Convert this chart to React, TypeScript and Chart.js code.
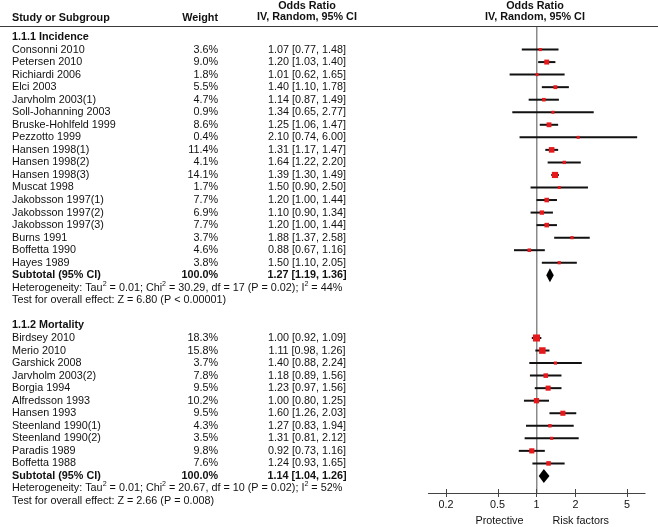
import React, { useEffect, useRef } from 'react';
import { Chart, registerables } from 'chart.js';

Chart.register(...registerables);

// ---------- data ----------
const incidenceNames = [
  'Consonni 2010', 'Petersen 2010', 'Richiardi 2006', 'Elci 2003', 'Jarvholm 2003(1)',
  'Soll-Johanning 2003', 'Bruske-Hohlfeld 1999', 'Pezzotto 1999', 'Hansen 1998(1)',
  'Hansen 1998(2)', 'Hansen 1998(3)', 'Muscat 1998', 'Jakobsson 1997(1)', 'Jakobsson 1997(2)',
  'Jakobsson 1997(3)', 'Burns 1991', 'Boffetta 1990', 'Hayes 1989',
];
const incidenceWeights = [3.6, 9.0, 1.8, 5.5, 4.7, 0.9, 8.6, 0.4, 11.4, 4.1, 14.1, 1.7, 7.7, 6.9, 7.7, 3.7, 4.6, 3.8];
const incidenceOR = [1.07, 1.20, 1.01, 1.40, 1.14, 1.34, 1.25, 2.10, 1.31, 1.64, 1.39, 1.50, 1.20, 1.10, 1.20, 1.88, 0.88, 1.50];
const incidenceLow = [0.77, 1.03, 0.62, 1.10, 0.87, 0.65, 1.06, 0.74, 1.17, 1.22, 1.30, 0.90, 1.00, 0.90, 1.00, 1.37, 0.67, 1.10];
const incidenceHigh = [1.48, 1.40, 1.65, 1.78, 1.49, 2.77, 1.47, 6.00, 1.47, 2.20, 1.49, 2.50, 1.44, 1.34, 1.44, 2.58, 1.16, 2.05];
const incidenceSubtotal = [1.27, 1.19, 1.36];
const incidenceHet = ['0.01', '30.29', '17', '0.02', '44'];
const incidenceTest = 'Z = 6.80 (P < 0.00001)';

const mortalityNames = [
  'Birdsey 2010', 'Merio 2010', 'Garshick 2008', 'Jarvholm 2003(2)', 'Borgia 1994',
  'Alfredsson 1993', 'Hansen 1993', 'Steenland 1990(1)', 'Steenland 1990(2)', 'Paradis 1989', 'Boffetta 1988',
];
const mortalityWeights = [18.3, 15.8, 3.7, 7.8, 9.5, 10.2, 9.5, 4.3, 3.5, 9.8, 7.6];
const mortalityOR = [1.00, 1.11, 1.40, 1.18, 1.23, 1.00, 1.60, 1.27, 1.31, 0.92, 1.24];
const mortalityLow = [0.92, 0.98, 0.88, 0.89, 0.97, 0.80, 1.26, 0.83, 0.81, 0.73, 0.93];
const mortalityHigh = [1.09, 1.26, 2.24, 1.56, 1.56, 1.25, 2.03, 1.94, 2.12, 1.16, 1.65];
const mortalitySubtotal = [1.14, 1.04, 1.26];
const mortalityHet = ['0.01', '20.67', '10', '0.02', '52'];
const mortalityTest = 'Z = 2.66 (P = 0.008)';

const subgroupTitles = ['1.1.1 Incidence', '1.1.2 Mortality'];
const xTicks = [0.2, 0.5, 1, 2, 5];
const favourLabels = ['Protective', 'Risk factors'];

// ---------- build rows ----------
type Study = { name: string; w: number; or: number; lo: number; hi: number; row: number };
const groups = [
  { title: subgroupTitles[0], names: incidenceNames, w: incidenceWeights, or: incidenceOR, lo: incidenceLow, hi: incidenceHigh, sub: incidenceSubtotal, het: incidenceHet, test: incidenceTest },
  { title: subgroupTitles[1], names: mortalityNames, w: mortalityWeights, or: mortalityOR, lo: mortalityLow, hi: mortalityHigh, sub: mortalitySubtotal, het: mortalityHet, test: mortalityTest },
];

const studies: Study[] = [];
const layoutGroups: any[] = [];
let r = 0;
for (const g of groups) {
  const headerRow = r++;
  const rows: Study[] = [];
  g.names.forEach((n, i) => {
    const s = { name: n, w: g.w[i], or: g.or[i], lo: g.lo[i], hi: g.hi[i], row: r++ };
    rows.push(s);
    studies.push(s);
  });
  const subRow = r++;
  const hetRow = r++;
  const testRow = r++;
  r++; // blank
  layoutGroups.push({ ...g, headerRow, subRow, hetRow, testRow });
}

const FONT = '"Liberation Sans", Arial, Helvetica, sans-serif';
const FS = 10.8;
const RED = '#e5191c';

const fmt = (v: number) => v.toFixed(2);

function drawRich(ctx: CanvasRenderingContext2D, segs: [string, boolean][], x: number, y: number) {
  let cx = x;
  ctx.textAlign = 'left';
  for (const [t, sup] of segs) {
    ctx.font = `${sup ? FS * 0.66 : FS}px ${FONT}`;
    ctx.fillText(t, cx, sup ? y - 4 : y);
    cx += ctx.measureText(t).width;
  }
}

const forestPlugin = {
  id: 'forest',
  afterDatasetsDraw(chart: any) {
    const ctx: CanvasRenderingContext2D = chart.ctx;
    const xs = chart.scales.x;
    const ys = chart.scales.y;
    ctx.save();
    // diamonds
    ctx.fillStyle = '#000';
    for (const g of layoutGroups) {
      const [est, lo, hi] = g.sub;
      const yc = ys.getPixelForValue(g.subRow);
      const h = Math.abs(ys.getPixelForValue(g.subRow + 0.56) - yc);
      ctx.beginPath();
      ctx.moveTo(xs.getPixelForValue(lo), yc);
      ctx.lineTo(xs.getPixelForValue(est), yc - h);
      ctx.lineTo(xs.getPixelForValue(hi), yc);
      ctx.lineTo(xs.getPixelForValue(est), yc + h);
      ctx.closePath();
      ctx.fill();
    }
    ctx.restore();
  },
  afterDraw(chart: any) {
    const ctx: CanvasRenderingContext2D = chart.ctx;
    const xs = chart.scales.x;
    const ys = chart.scales.y;
    const area = chart.chartArea;
    ctx.save();
    // header rule
    ctx.strokeStyle = '#3a3a3a';
    ctx.lineWidth = 1;
    ctx.beginPath();
    ctx.moveTo(0, area.top + 0.5);
    ctx.lineTo(chart.width, area.top + 0.5);
    ctx.stroke();
    // tick marks crossing axis
    ctx.strokeStyle = '#444';
    for (const v of xTicks) {
      const px = Math.round(xs.getPixelForValue(v)) + 0.5;
      ctx.beginPath();
      ctx.moveTo(px, area.bottom - 4);
      ctx.lineTo(px, area.bottom + 4);
      ctx.stroke();
    }

    ctx.fillStyle = '#111';
    ctx.textBaseline = 'middle';
    const colName = 12;
    const colWeight = 218;
    const colOR = 307;
    const plotMid = (area.left + area.right) / 2 - 1.5;

    // headers
    ctx.font = `bold ${FS}px ${FONT}`;
    ctx.textAlign = 'left';
    ctx.fillText('Study or Subgroup', colName, 18.5);
    ctx.textAlign = 'right';
    ctx.fillText('Weight', colWeight, 18.5);
    ctx.textAlign = 'center';
    ctx.fillText('Odds Ratio', colOR, 6.5);
    ctx.fillText('IV, Random, 95% CI', colOR, 17.5);
    ctx.fillText('Odds Ratio', plotMid, 6.5);
    ctx.fillText('IV, Random, 95% CI', plotMid, 17.5);

    for (const g of layoutGroups) {
      ctx.font = `bold ${FS}px ${FONT}`;
      ctx.textAlign = 'left';
      ctx.fillText(g.title, colName, ys.getPixelForValue(g.headerRow));
    }

    ctx.font = `${FS}px ${FONT}`;
    for (const s of studies) {
      const y = ys.getPixelForValue(s.row);
      ctx.textAlign = 'left';
      ctx.fillText(s.name, colName, y);
      ctx.textAlign = 'right';
      ctx.fillText(s.w.toFixed(1) + '%', colWeight, y);
      ctx.textAlign = 'center';
      ctx.fillText(`${fmt(s.or)} [${fmt(s.lo)}, ${fmt(s.hi)}]`, colOR, y);
    }

    for (const g of layoutGroups) {
      const y = ys.getPixelForValue(g.subRow);
      const total = g.w.reduce((a: number, b: number) => a + b, 0);
      ctx.font = `bold ${FS}px ${FONT}`;
      ctx.textAlign = 'left';
      ctx.fillText('Subtotal (95% CI)', colName, y);
      ctx.textAlign = 'right';
      ctx.fillText(Math.round(total).toFixed(1) + '%', colWeight, y);
      ctx.textAlign = 'center';
      ctx.fillText(`${fmt(g.sub[0])} [${fmt(g.sub[1])}, ${fmt(g.sub[2])}]`, colOR, y);

      const [tau, chi, df, p, i2] = g.het;
      drawRich(ctx, [
        ['Heterogeneity: Tau', false], ['2', true], [` = ${tau}; Chi`, false], ['2', true],
        [` = ${chi}, df = ${df} (P = ${p}); I`, false], ['2', true], [` = ${i2}%`, false],
      ], colName, ys.getPixelForValue(g.hetRow));
      ctx.font = `${FS}px ${FONT}`;
      ctx.textAlign = 'left';
      ctx.fillText('Test for overall effect: ' + g.test, colName, ys.getPixelForValue(g.testRow));
    }

    // favour labels
    const x1 = xs.getPixelForValue(1);
    ctx.font = `${FS}px ${FONT}`;
    ctx.textAlign = 'right';
    ctx.fillText(favourLabels[0], x1 - 13, 521);
    ctx.textAlign = 'left';
    ctx.fillText(favourLabels[1], x1 + 16, 521);
    ctx.restore();
  },
};

export default function App() {
  const ref = useRef<HTMLCanvasElement>(null);
  useEffect(() => {
    const datasets: any[] = [];
    datasets.push({
      type: 'scatter',
      data: studies.map((s) => ({ x: s.or, y: s.row })),
      pointStyle: 'rect',
      pointRadius: studies.map((s) => Math.max(3, 1.65 * Math.sqrt(s.w)) / Math.SQRT2),
      backgroundColor: RED,
      borderWidth: 0,
      pointBorderWidth: 0,
    });
    for (const s of studies) {
      datasets.push({
        type: 'scatter',
        data: [{ x: s.lo, y: s.row }, { x: s.hi, y: s.row }],
        showLine: true,
        borderColor: '#111',
        borderWidth: 2,
        pointRadius: 0,
        borderCapStyle: 'butt',
      });
    }
    const chart = new Chart(ref.current as HTMLCanvasElement, {
      type: 'scatter',
      data: { datasets },
      plugins: [forestPlugin as any],
      options: {
        responsive: false,
        animation: false,
        events: [],
        layout: { padding: { left: 428, right: 13, top: 26, bottom: 0 } },
        plugins: { legend: { display: false }, tooltip: { enabled: false } },
        scales: {
          x: {
            type: 'logarithmic',
            min: 0.145,
            max: 6.9,
            afterBuildTicks: (scale: any) => {
              scale.ticks = xTicks.map((v) => ({ value: v }));
            },
            afterFit: (scale: any) => {
              scale.height = 34;
            },
            ticks: {
              autoSkip: false,
              maxRotation: 0,
              padding: 6,
              color: '#111',
              font: { family: FONT, size: FS },
              callback: (v: any) => String(v),
            },
            grid: {
              drawTicks: false,
              color: (c: any) => (c.tick && c.tick.value === 1 ? '#8a8a8a' : 'rgba(0,0,0,0)'),
              lineWidth: 1.5,
            },
            border: { display: true, color: '#444', width: 1 },
          },
          y: {
            type: 'linear',
            reverse: true,
            min: -0.877,
            max: 36.36,
            display: false,
          },
        },
      },
    });
    return () => chart.destroy();
  }, []);
  return (
    <div style={{ position: 'fixed', left: 0, top: 0, width: 658, height: 527, background: '#fff' }}>
      <canvas ref={ref} width={658} height={527} style={{ display: 'block', width: 658, height: 527 }} />
    </div>
  );
}
